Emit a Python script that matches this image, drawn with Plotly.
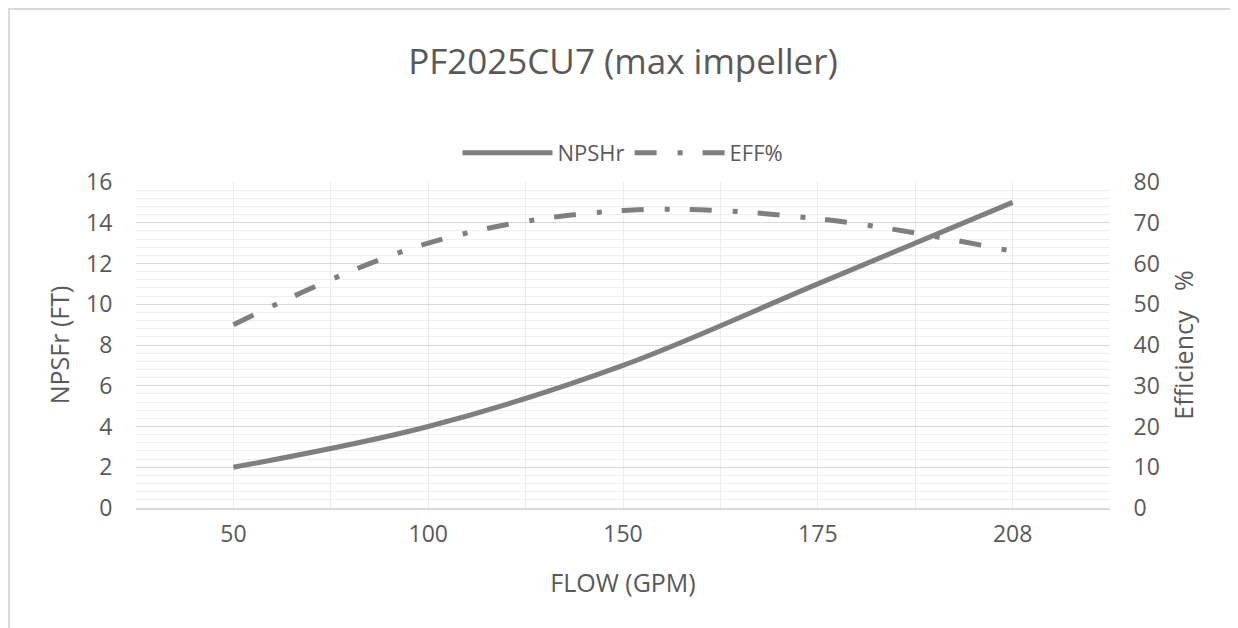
import plotly.graph_objects as go

flow_labels = ["50", "100", "150", "175", "208"]
npshr_ft = [2, 4, 7, 11, 15]
eff_pct = [45, 65, 73, 71, 63]

x_idx = list(range(len(flow_labels)))

FONT = "Open Sans"
TXT = "#595959"
LINE = "#7f7f7f"

fig = go.Figure()
fig.add_trace(go.Scatter(
    x=x_idx, y=npshr_ft, name="NPSHr", mode="lines",
    line=dict(color=LINE, width=5, shape="spline", smoothing=1.0),
    yaxis="y"))
fig.add_trace(go.Scatter(
    x=x_idx, y=eff_pct, name="EFF%", mode="lines",
    line=dict(color=LINE, width=5, shape="spline", smoothing=1.0,
              dash="22px,21px,5px,20px"),
    yaxis="y2"))

# page body has an 8px margin
OFF = 8
W, H = 1238 - OFF, 628 - OFF
L, T = 136 - OFF, 182 - OFF
R = W - (1110 - OFF)
B = H - (508 - OFF)
pw = W - L - R
ph = H - T - B

fig.update_layout(
    width=W, height=H,
    margin=dict(l=L, r=R, t=T, b=B),
    paper_bgcolor="white", plot_bgcolor="white",
    font=dict(family=FONT, color=TXT, size=20),
    title=dict(text="PF2025CU7 (max impeller)", x=0.5, xanchor="center",
               y=1 - (62 - OFF) / H, yanchor="middle",
               font=dict(family=FONT, size=35, color=TXT)),
    showlegend=True,
    legend=dict(orientation="h", x=0.5, xanchor="center",
                y=(508 - 153) / ph, yanchor="middle",
                font=dict(family=FONT, size=22, color=TXT),
                bgcolor="rgba(0,0,0,0)", itemwidth=90),
    xaxis=dict(
        range=[-0.5, len(flow_labels) - 0.5],
        tickmode="array", tickvals=x_idx, ticktext=flow_labels,
        showgrid=False, zeroline=False,
        showline=True, linecolor="#d9d9d9", linewidth=2,
        ticks="outside", ticklen=4, tickcolor="rgba(0,0,0,0)",
        tickfont=dict(size=23, color=TXT),
        minor=dict(tick0=-0.5, dtick=0.5, showgrid=True,
                   gridcolor="#ececec", gridwidth=1, ticks=""),
        title=dict(text="FLOW (GPM)", standoff=27,
                   font=dict(size=25, color=TXT)),
    ),
    yaxis=dict(
        range=[0, 16], tick0=0, dtick=2,
        showgrid=True, gridcolor="#d9d9d9", gridwidth=1,
        zeroline=False, showline=False,
        ticks="outside", ticklen=18, tickcolor="rgba(0,0,0,0)",
        tickfont=dict(size=23, color=TXT),
        minor=dict(dtick=0.4, showgrid=True, gridcolor="#efefef",
                   gridwidth=1, ticks=""),
        title=dict(text="NPSFr (FT)", standoff=9,
                   font=dict(size=25, color=TXT)),
    ),
    yaxis2=dict(
        range=[0, 80], tick0=0, dtick=10, overlaying="y", side="right",
        showgrid=False, zeroline=False, showline=False,
        ticks="outside", ticklen=18, tickcolor="rgba(0,0,0,0)",
        tickfont=dict(size=23, color=TXT),
        title=dict(text="Efficiency\u00a0\u00a0\u00a0%", standoff=16,
                   font=dict(size=25, color=TXT)),
    ),
    shapes=[dict(type="rect", xref="paper", yref="paper",
                 x0=(1 - L) / pw, x1=2.0,
                 y0=-1.0, y1=(508 - 9) / ph,
                 line=dict(color="#d9d9d9", width=2),
                 fillcolor="rgba(0,0,0,0)", layer="below")],
)

fig.write_html("out.html")
